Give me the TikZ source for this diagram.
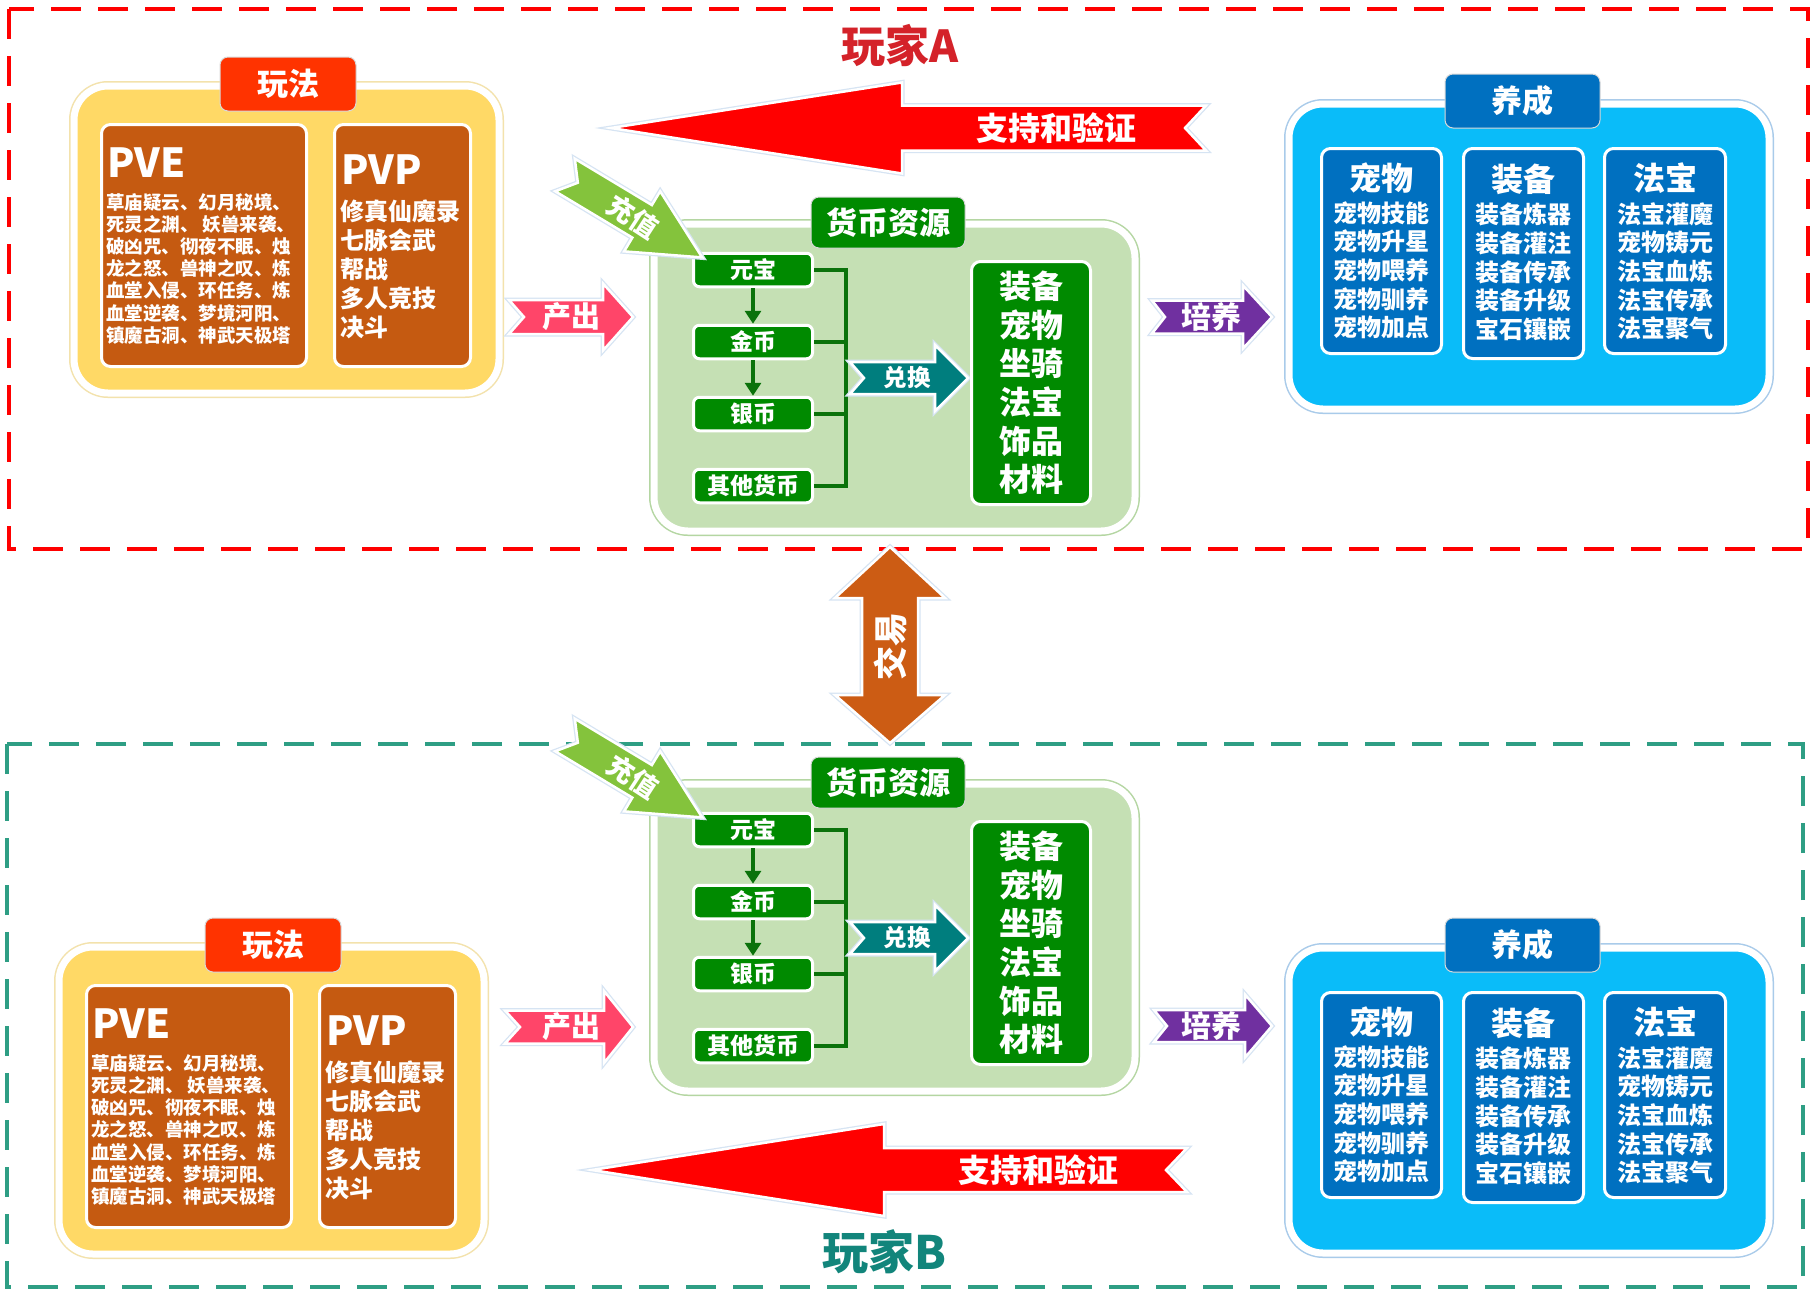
\documentclass[tikz,border=0pt]{standalone}
\usepackage{fontspec}
\setmainfont{Noto Sans CJK SC}[BoldFont={Noto Sans CJK SC Black}]
\usepackage{tikz}
\usetikzlibrary{positioning,calc,arrows.meta}
\definecolor{gmRed}{HTML}{FF0000}
\definecolor{gmTitleA}{HTML}{D42229}
\definecolor{gmTitleB}{HTML}{12857B}
\definecolor{gmTeal}{HTML}{2E9E84}
\definecolor{gmYellow}{HTML}{FFD966}
\definecolor{gmYellowRim}{HTML}{F3E2AC}
\definecolor{gmTab}{HTML}{FF3300}
\definecolor{gmBrown}{HTML}{C55A11}
\definecolor{gmPink}{HTML}{FF4569}
\definecolor{gmMint}{HTML}{C5E0B4}
\definecolor{gmMintRim}{HTML}{B4D6A2}
\definecolor{gmGreen}{HTML}{008A00}
\definecolor{gmDeep}{HTML}{0B720B}
\definecolor{gmLime}{HTML}{84C33C}
\definecolor{gmSea}{HTML}{007E7E}
\definecolor{gmPurple}{HTML}{7030A0}
\definecolor{gmSky}{HTML}{0ABCF9}
\definecolor{gmSkyRim}{HTML}{A9CBEA}
\definecolor{gmBlue}{HTML}{0070C0}
\definecolor{gmRust}{HTML}{CC5C14}
\definecolor{gmHalo}{HTML}{D6E4F3}
\newcommand{\cn}[2]{\fontsize{#1}{#2}\selectfont\bfseries}
\tikzset{
  grp/.style 2 args={fill=#1,draw=white,line width=7pt,rounded corners=34pt,
    inner sep=0pt,preaction={draw=#2,line width=10pt}},
  tab/.style={fill=#1,draw=black!15,line width=1pt,rounded corners=8pt,
    text=white,inner sep=0pt,font=\cn{31}{31}},
  card/.style={fill=#1,draw=white,line width=3pt,rounded corners=9pt,
    text=white,inner sep=0pt},
  coin/.style={card=gmGreen,minimum width=119pt,minimum height=33.5pt,
    rounded corners=6pt,font=\cn{23}{23}},
  txt/.style={text=white,inner sep=0pt},
  busline/.style={draw=gmDeep,line width=4pt},
  coinflow/.style={draw=gmDeep,line width=4pt,-{Triangle[width=16pt,length=13pt]}},
  arrowedge/.style={draw=white,line width=2.5pt,preaction={draw=gmHalo,line width=5pt}},
  dashframe/.style={draw=#1,line width=3.5pt,dash pattern=on 30pt off 17pt}
}
\newcommand{\barrow}[8]{%
  \path[fill=#1,arrowedge,shift={#2},rotate=#3]
    (0,-#7) -- ({#4-#5},-#7) -- ({#4-#5},-#6) -- (#4,0) -- ({#4-#5},#6)
    -- ({#4-#5},#7) -- (0,#7) -- (#8,0) -- cycle;}
\newcommand{\wanfa}[2]{%
  \begin{scope}[shift={#2}]
    \node[grp={gmYellow}{gmYellowRim},minimum width=425pt,minimum height=307pt] (#1wf) at (286.5,239.5) {};
    \node[tab=gmTab,minimum width=136pt,minimum height=54pt] (#1wft) at (288,84) {玩法};
    \node[card=gmBrown,minimum width=205pt,minimum height=242pt] (#1pve) at (204,245.5) {};
    \node[card=gmBrown,minimum width=136pt,minimum height=242pt] (#1pvp) at (402.5,245.5) {};
    \node[txt,anchor=west,font=\cn{40}{40}] (#1pveh) at ($(#1pve.north west)+(7,40)$) {PVE};
    \node[txt,anchor=north west,align=left,font=\cn{18.5}{22.2}] (#1pveb) at ($(#1pve.north west)+(6,70)$)
      {草庙疑云、幻月秘境、\\死灵之渊、 妖兽来袭、\\破凶咒、彻夜不眠、烛\\龙之怒、兽神之叹、炼\\血堂入侵、环任务、炼\\血堂逆袭、梦境河阳、\\镇魔古洞、神武天极塔};
    \node[txt,anchor=west,font=\cn{40}{40}] (#1pvph) at ($(#1pvp.north west)+(8,47)$) {PVP};
    \node[txt,anchor=north west,align=left,font=\cn{24}{28.8}] (#1pvpb) at ($(#1pvp.north west)+(7,77)$)
      {修真仙魔录\\七脉会武\\帮战\\多人竞技\\决斗};
  \end{scope}}
\newcommand{\huobi}[2]{%
  \begin{scope}[shift={#2}]
    \node[grp={gmMint}{gmMintRim},minimum width=481pt,minimum height=307pt] (#1hb) at (894.5,377.5) {};
    \node[tab=gmGreen,minimum width=154pt,minimum height=51pt] (#1hbt) at (888,222.5) {货币资源};
    \node[coin] (#1yb) at (753,270) {元宝};
    \node[coin,below=35.5pt of #1yb] (#1jb) {金币};
    \node[coin,below=35.5pt of #1jb] (#1sb) {银币};
    \node[coin,below=35.5pt of #1sb] (#1qt) {其他货币};
    \coordinate (#1bus) at ($(#1yb.east)+(32,0)$);
    \draw[busline] (#1yb.east) -- (#1bus) -- (#1bus |- #1qt.east) -- (#1qt.east);
    \draw[busline] (#1jb.east) -- (#1jb.east -| #1bus);
    \draw[busline] (#1sb.east) -- (#1sb.east -| #1bus);
    \draw[coinflow] (#1yb) -- (#1jb);
    \draw[coinflow] (#1jb) -- (#1sb);
    \barrow{gmSea}{(850,378)}{0}{118}{33}{33}{16}{14}
    \node[txt,font=\cn{23.5}{23.5}] (#1dh) at (907,378) {兑换};
    \node[card=gmGreen,minimum width=119pt,minimum height=243pt,align=center,font=\cn{32}{38.6}] (#1wp) at (1031,383)
      {装备\\宠物\\坐骑\\法宝\\饰品\\材料};
    \barrow{gmLime}{(565,175)}{-31}{160}{70}{35}{19}{15}
    \node[txt,rotate=-33,font=\cn{27}{27}] (#1cz) at (633,217) {充值};
  \end{scope}}
\newcommand{\yangcheng}[2]{%
  \begin{scope}[shift={#2}]
    \node[grp={gmSky}{gmSkyRim},minimum width=480pt,minimum height=305pt] (#1yc) at (1529,256.5) {};
    \node[tab=gmBlue,minimum width=155pt,minimum height=54pt] (#1yct) at (1522.5,101) {养成};
    \node[card=gmBlue,minimum width=120pt,minimum height=205pt] (#1cw) at (1381.5,251) {};
    \node[card=gmBlue,minimum width=120pt,minimum height=210pt] (#1zb) at (1523.5,253.5) {};
    \node[card=gmBlue,minimum width=121pt,minimum height=205pt] (#1fb) at (1665,251) {};
    \node[txt,font=\cn{32}{32}] (#1cwh) at ($(#1cw.north)+(0,31)$) {宠物};
    \node[txt,anchor=north,align=center,font=\cn{24}{28.7}] (#1cwb) at ($(#1cw.north)+(0,54)$)
      {宠物技能\\宠物升星\\宠物喂养\\宠物驯养\\宠物加点};
    \node[txt,font=\cn{32}{32}] (#1zbh) at ($(#1zb.north)+(0,32)$) {装备};
    \node[txt,anchor=north,align=center,font=\cn{24}{28.7}] (#1zbb) at ($(#1zb.north)+(0,56)$)
      {装备炼器\\装备灌注\\装备传承\\装备升级\\宝石镶嵌};
    \node[txt,font=\cn{32}{32}] (#1fbh) at ($(#1fb.north)+(0,31)$) {法宝};
    \node[txt,anchor=north,align=center,font=\cn{24}{28.7}] (#1fbb) at ($(#1fb.north)+(0,55)$)
      {法宝灌魔\\宠物铸元\\法宝血炼\\法宝传承\\法宝聚气};
  \end{scope}}

\begin{document}
\begin{tikzpicture}[x=1pt,y=-1pt]
  \fill[white] (0,0) rectangle (1815,1312);
  \useasboundingbox (0,0) rectangle (1815,1312);
  \draw[dashframe=gmRed] (9,9) rectangle (1808,549);
  \draw[dashframe=gmTeal] (7,744) rectangle (1803,1287);
  \node[font=\cn{44}{44},text=gmTitleA,inner sep=0pt] (titleA) at (900,46) {玩家A};
  \node[font=\cn{46}{46},text=gmTitleB,inner sep=0pt] (titleB) at (884,1252) {玩家B};

  \wanfa{A}{(0,0)}
  \wanfa{B}{(-15,861)}
  \huobi{A}{(0,0)}
  \huobi{B}{(0,560)}
  \yangcheng{A}{(0,0)}
  \yangcheng{B}{(0,844)}

  \barrow{gmPink}{(509,317)}{0}{124}{30}{33.5}{17}{15}
  \node[txt,font=\cn{29}{29}] (ccA) at (571,317) {产出};
  \barrow{gmPink}{(505,1027)}{0}{128}{29}{36}{16.5}{15}
  \node[txt,font=\cn{29}{29}] (ccB) at (571,1027) {产出};
  \barrow{gmPurple}{(1152,317)}{0}{120}{29}{31.5}{16.5}{13}
  \node[txt,font=\cn{30}{30}] (pyA) at (1211,317) {培养};
  \barrow{gmPurple}{(1154,1026)}{0}{118}{27}{31.5}{16}{13}
  \node[txt,font=\cn{30}{30}] (pyB) at (1211,1026) {培养};
  \barrow{gmRed}{(1206,128)}{180}{595}{291}{45.5}{22.5}{21}
  \node[txt,font=\cn{32}{32}] (zcA) at (1056,128) {支持和验证};
  \barrow{gmRed}{(1187,1170)}{180}{595}{292}{46}{22}{21}
  \node[txt,font=\cn{32}{32}] (zcB) at (1038,1170) {支持和验证};

  \path[fill=gmRust,arrowedge] (890,547) -- (945,598) -- (918,598) -- (918,695) -- (945,695)
    -- (890,743) -- (835,695) -- (862,695) -- (862,598) -- (835,598) -- cycle;
  \node[txt,rotate=90,font=\cn{34}{34}] (jy) at (890,646) {交易};
\end{tikzpicture}
\end{document}
